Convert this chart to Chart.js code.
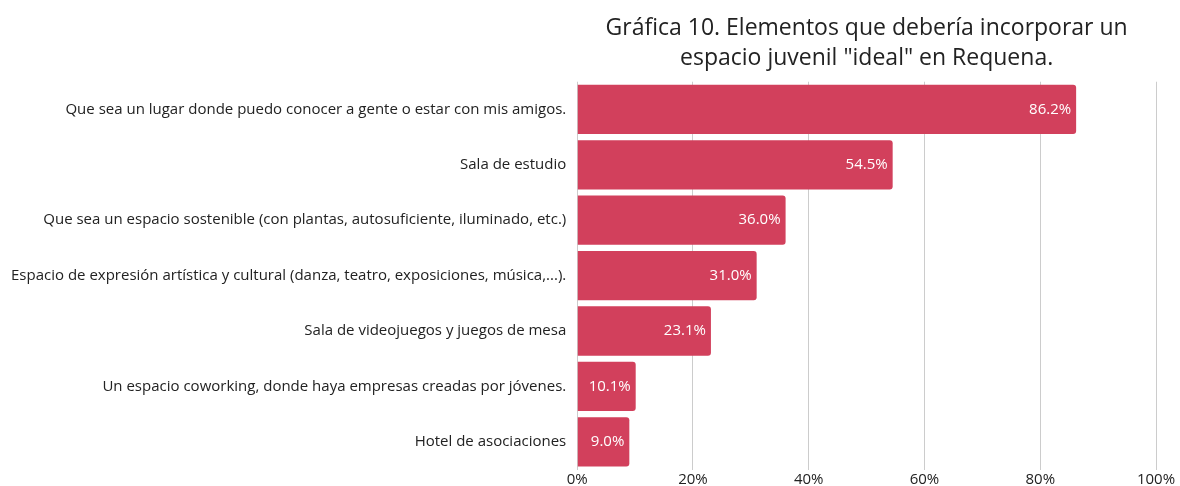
<!DOCTYPE html>
<html>
<head>
<meta charset="utf-8">
<script src="https://cdn.jsdelivr.net/npm/chart.js@4"></script>
<style>
  html, body { margin: 0; padding: 0; background: #fff; }
  #wrap { width: 1180px; height: 486px; }
</style>
</head>
<body>
<div id="wrap"><canvas id="barChart"></canvas></div>
<script>
// datos
const categorias = [
  "Que sea un lugar donde puedo conocer a gente o estar con mis amigos.",
  "Sala de estudio",
  "Que sea un espacio sostenible (con plantas, autosuficiente, iluminado, etc.)",
  "Espacio de expresión artística y cultural (danza, teatro, exposiciones, música,...).",
  "Sala de videojuegos y juegos de mesa",
  "Un espacio coworking, donde haya empresas creadas por jóvenes.",
  "Hotel de asociaciones"
];
const porcentajes = [86.2, 54.5, 36.0, 31.0, 23.1, 10.1, 9.0];
const ticksX = [0, 20, 40, 60, 80, 100];
const titulo = ["Gráfica 10. Elementos que debería incorporar un", "espacio juvenil \"ideal\" en Requena."];

const fuente = "'Open Sans', sans-serif";

// etiquetas blancas dentro de la barra
const etiquetasBarras = {
  id: "etiquetasBarras",
  afterDatasetsDraw(chart) {
    const ctx = chart.ctx;
    const meta = chart.getDatasetMeta(0);
    ctx.save();
    ctx.font = "15px " + fuente;
    ctx.fillStyle = "#ffffff";
    ctx.textAlign = "right";
    ctx.textBaseline = "middle";
    meta.data.forEach((bar, i) => {
      ctx.fillText(porcentajes[i].toFixed(1) + "%", bar.x - 5, bar.y);
    });
    ctx.restore();
  }
};

new Chart(document.getElementById("barChart"), {
  type: "bar",
  data: {
    labels: categorias,
    datasets: [{
      data: porcentajes,
      backgroundColor: "#d2405c",
      borderRadius: 3,
      borderSkipped: "start",
      categoryPercentage: 0.89,
      barPercentage: 1
    }]
  },
  options: {
    indexAxis: "y",
    responsive: true,
    maintainAspectRatio: false,
    animation: false,
    layout: { padding: { left: 8, right: 24, bottom: -3 } },
    plugins: {
      legend: { display: false },
      tooltip: { enabled: false },
      title: {
        display: true,
        fullSize: false,
        text: titulo,
        color: "#222",
        font: { family: fuente, size: 23, weight: "normal", lineHeight: 1.32 },
        padding: { top: 13, bottom: 8 }
      }
    },
    scales: {
      x: {
        min: 0,
        max: 100,
        afterBuildTicks: axis => { axis.ticks = ticksX.map(v => ({ value: v })); },
        ticks: {
          callback: v => v + "%",
          color: "#222",
          font: { family: fuente, size: 15, lineHeight: 0.9 },
          padding: 3
        },
        grid: { color: "#cccccc", drawTicks: false },
        border: { display: false }
      },
      y: {
        ticks: {
          color: "#222",
          font: { family: fuente, size: 15 },
          padding: 3
        },
        grid: { display: false },
        border: { display: false }
      }
    }
  },
  plugins: [etiquetasBarras]
});
</script>
</body>
</html>
